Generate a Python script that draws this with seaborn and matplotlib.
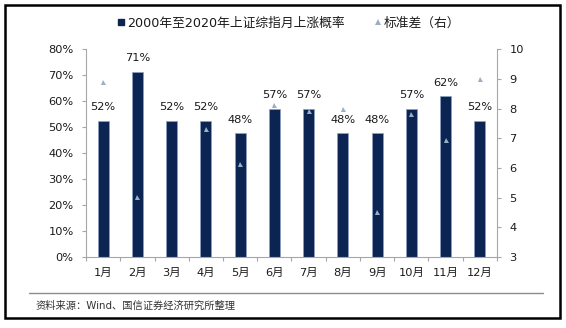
import numpy as np
import pandas as pd
import matplotlib
matplotlib.use("Agg")
import matplotlib.pyplot as plt
import seaborn as sns
from matplotlib.lines import Line2D
from matplotlib.patches import Rectangle
from matplotlib.ticker import PercentFormatter, MultipleLocator, FixedLocator

months = ["1月", "2月", "3月", "4月", "5月", "6月", "7月", "8月", "9月", "10月", "11月", "12月"]
up_prob = [52.4, 71.4, 52.4, 52.4, 47.6, 57.1, 57.1, 47.6, 47.6, 57.1, 61.9, 52.4]
std_dev = [8.9, 5.03, np.nan, 7.3, 6.12, 8.11, 7.92, 7.98, 4.52, 7.81, 6.94, 9.01]
bar_labels = ["52%", "71%", "52%", "52%", "48%", "57%", "57%", "48%", "48%", "57%", "62%", "52%"]
legend_labels = ["2000年至2020年上证综指月上涨概率", "标准差（右）"]
source_text = "资料来源：Wind、国信证券经济研究所整理"

sns.set_theme(style="white")
plt.rcParams["font.family"] = ["DejaVu Sans", "Noto Sans CJK SC"]

NAVY = "#0B2452"
TRI = "#9CAEC6"
SPINE = "#A6A6A6"
TXT = "#1a1a1a"
FS = 8.2

df = pd.DataFrame({"month": months, "prob": up_prob, "std": std_dev})

fig = plt.figure(figsize=(5.66, 3.28), dpi=100)
ax = fig.add_axes([0.152, 0.217, 0.726, 0.633])
ax2 = ax.twinx()

sns.barplot(data=df, x="month", y="prob", order=months, color=NAVY, width=0.32,
            saturation=1, edgecolor="#8EA2C2", linewidth=0.5, ax=ax)
ax.set_ylim(0, 80)
ax.yaxis.set_major_locator(MultipleLocator(10))
ax.yaxis.set_major_formatter(PercentFormatter(decimals=0))

for cont in ax.containers:
    ax.bar_label(cont, labels=bar_labels, padding=6, fontsize=FS, color=TXT)

sns.pointplot(data=df, x="month", y="std", order=months, color=TRI, markers="^",
              linestyles="none", markersize=3.6, markeredgewidth=0, errorbar=None, ax=ax2)
ax2.set_ylim(3, 10)
ax2.yaxis.set_major_locator(MultipleLocator(1))

ax.set_xlim(-0.5, 11.5)
ax2.set_xlim(-0.5, 11.5)

for a in (ax, ax2):
    a.set_xlabel("")
    a.set_ylabel("")
    a.grid(False)
    for s in a.spines.values():
        s.set_color(SPINE)
        s.set_linewidth(0.8)
    a.spines["top"].set_visible(False)

ax.spines["right"].set_visible(False)
ax2.spines["left"].set_visible(False)
ax2.spines["bottom"].set_visible(False)

ax.tick_params(axis="y", which="major", left=True, length=3, width=0.8, color=SPINE,
               pad=6, labelsize=FS, labelcolor=TXT)
ax2.tick_params(axis="y", which="major", right=True, length=3, width=0.8, color=SPINE,
                pad=6, labelsize=FS, labelcolor=TXT)
ax.xaxis.set_minor_locator(FixedLocator(np.arange(-0.5, 12, 1)))
ax.tick_params(axis="x", which="major", length=0, pad=8, labelsize=FS, labelcolor=TXT)
ax.tick_params(axis="x", which="minor", bottom=True, length=3, width=0.8, color=SPINE)
ax2.tick_params(axis="x", which="both", bottom=False, top=False, labelbottom=False)

handles = [
    Line2D([], [], marker="s", linestyle="none", color=NAVY, markersize=5),
    Line2D([], [], marker="^", linestyle="none", color=TRI, markersize=4, markeredgewidth=0),
]
fig.legend(handles, legend_labels, loc="center", bbox_to_anchor=(0.51, 0.93), ncol=2,
           frameon=False, fontsize=9.2, handlelength=0.7, handletextpad=0.15,
           columnspacing=2.2, borderaxespad=0, labelcolor=TXT)

fig.add_artist(Line2D([29 / 566, 543 / 566], [1 - 293 / 328, 1 - 293 / 328],
                      transform=fig.transFigure, color="#8c8c8c", linewidth=1))
fig.text(35 / 566, 1 - 306 / 328, source_text, fontsize=7.4, color="#333333",
         va="center", ha="left")
fig.add_artist(Rectangle((5 / 566, 1 - 318 / 328), 555 / 566, 313 / 328,
                         transform=fig.transFigure, fill=False, edgecolor="black",
                         linewidth=1.8))

fig.savefig("out.png", dpi=100)
